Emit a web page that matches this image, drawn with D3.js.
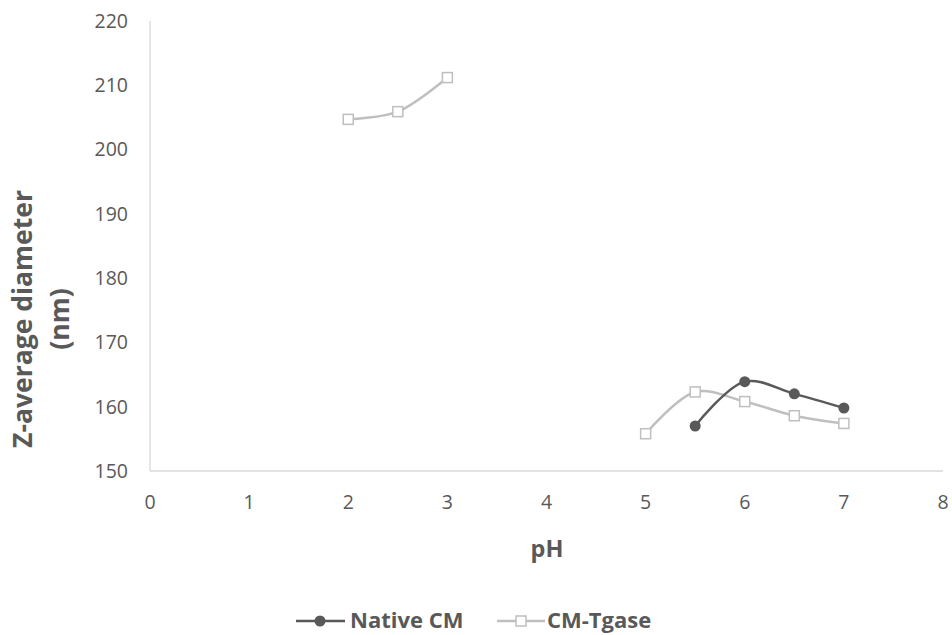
<!DOCTYPE html>
<html>
<head>
<meta charset="utf-8">
<script src="https://cdn.jsdelivr.net/npm/d3@7"></script>
<style>
  body { margin: 0; background: #fff; }
  text { font-family: "Open Sans", "Noto Sans", sans-serif; }
</style>
</head>
<body>
<div id="app"></div>
<script>
// pH values and Z-average diameters (nm)
const phNative = [5.5, 6, 6.5, 7];
const nativeCM = [157.0, 163.9, 162.0, 159.8];

// CM-Tgase has no measurements between pH 3 and 5
const phTgase = [2, 2.5, 3, 3.5, 4, 4.5, 5, 5.5, 6, 6.5, 7];
const cmTgase = [204.7, 205.9, 211.2, null, null, null, 155.8, 162.3, 160.8, 158.6, 157.4];

const xTicks = [0, 1, 2, 3, 4, 5, 6, 7, 8];
const yTicks = [150, 160, 170, 180, 190, 200, 210, 220];

const width = 952, height = 635;

const svg = d3.select('#app')
  .append('svg')
  .attr('width', width)
  .attr('height', height);

const x = d3.scaleLinear().domain([0, 8]).range([150, 943]);
const y = d3.scaleLinear().domain([150, 220]).range([471, 21]);

const axisColor = '#d9d9d9';
const textColor = '#595959';

// axes lines
svg.append('line')
  .attr('x1', x(0)).attr('x2', x(0))
  .attr('y1', y(220)).attr('y2', y(150))
  .attr('stroke', axisColor).attr('stroke-width', 1.3);

svg.append('line')
  .attr('x1', x(0)).attr('x2', x(8))
  .attr('y1', y(150)).attr('y2', y(150))
  .attr('stroke', axisColor).attr('stroke-width', 1.3);

// tick labels
svg.append('g')
  .selectAll('text')
  .data(yTicks)
  .join('text')
  .attr('x', 128)
  .attr('y', d => y(d))
  .attr('dy', '0.35em')
  .attr('text-anchor', 'end')
  .attr('font-size', 19.5)
  .attr('fill', textColor)
  .text(d => d);

svg.append('g')
  .selectAll('text')
  .data(xTicks)
  .join('text')
  .attr('x', d => x(d))
  .attr('y', 502)
  .attr('dy', '0.35em')
  .attr('text-anchor', 'middle')
  .attr('font-size', 19.5)
  .attr('fill', textColor)
  .text(d => d);

// axis titles
svg.append('text')
  .attr('x', 547)
  .attr('y', 557)
  .attr('text-anchor', 'middle')
  .attr('font-size', 23.5)
  .attr('font-weight', 'bold')
  .attr('fill', textColor)
  .text('pH');

const yTitle = svg.append('text')
  .attr('transform', 'translate(0,319) rotate(-90)')
  .attr('text-anchor', 'middle')
  .attr('font-size', 26.5)
  .attr('font-weight', 'bold')
  .attr('fill', textColor);

yTitle.append('tspan').attr('x', 0).attr('y', 32).text('Z-average diameter');
yTitle.append('tspan').attr('x', 0).attr('y', 69).text('(nm)');

// series
const smooth = d3.line()
  .defined(d => d[1] != null)
  .x(d => x(d[0]))
  .y(d => y(d[1]))
  .curve(d3.curveCatmullRom.alpha(0.5));

const tgaseColor = '#bfbfbf';
const nativeColor = '#595959';

const tgasePts = phTgase.map((p, i) => [p, cmTgase[i]]);
const nativePts = phNative.map((p, i) => [p, nativeCM[i]]);

svg.append('path')
  .datum(tgasePts)
  .attr('d', smooth)
  .attr('fill', 'none')
  .attr('stroke', tgaseColor)
  .attr('stroke-width', 2.5);

svg.append('g')
  .selectAll('rect')
  .data(tgasePts.filter(d => d[1] != null))
  .join('rect')
  .attr('x', d => x(d[0]) - 5)
  .attr('y', d => y(d[1]) - 5)
  .attr('width', 10)
  .attr('height', 10)
  .attr('fill', '#fff')
  .attr('stroke', tgaseColor)
  .attr('stroke-width', 1.5);

svg.append('path')
  .datum(nativePts)
  .attr('d', smooth)
  .attr('fill', 'none')
  .attr('stroke', nativeColor)
  .attr('stroke-width', 2.5);

svg.append('g')
  .selectAll('circle')
  .data(nativePts)
  .join('circle')
  .attr('cx', d => x(d[0]))
  .attr('cy', d => y(d[1]))
  .attr('r', 5.5)
  .attr('fill', nativeColor);

// legend
const legend = svg.append('g').attr('transform', 'translate(0,621)');

legend.append('line')
  .attr('x1', 296).attr('x2', 345).attr('y1', 0).attr('y2', 0)
  .attr('stroke', nativeColor).attr('stroke-width', 2.5);
legend.append('circle')
  .attr('cx', 320).attr('cy', 0).attr('r', 5.5)
  .attr('fill', nativeColor);
legend.append('text')
  .attr('x', 350).attr('y', 7)
  .attr('font-size', 22)
  .attr('font-weight', 'bold')
  .attr('fill', textColor)
  .text('Native CM');

legend.append('line')
  .attr('x1', 497).attr('x2', 545).attr('y1', 0).attr('y2', 0)
  .attr('stroke', tgaseColor).attr('stroke-width', 2.5);
legend.append('rect')
  .attr('x', 516).attr('y', -5).attr('width', 10).attr('height', 10)
  .attr('fill', '#fff')
  .attr('stroke', tgaseColor).attr('stroke-width', 1.5);
legend.append('text')
  .attr('x', 547).attr('y', 7)
  .attr('font-size', 22)
  .attr('font-weight', 'bold')
  .attr('fill', textColor)
  .text('CM-Tgase');
</script>
</body>
</html>
